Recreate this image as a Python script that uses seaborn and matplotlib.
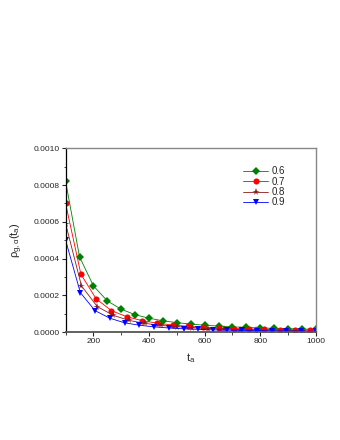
import matplotlib
matplotlib.use('Agg')
import numpy as np
import pandas as pd
import seaborn as sns
import matplotlib.pyplot as plt

# aging time t_a and rho_{g,alpha}(t_a) for each alpha
x_06 = [100, 150, 200, 250, 300, 350, 400, 450, 500, 550, 600, 650, 700, 750, 800, 850, 900, 950, 1000]
y_06 = [8.2e-4, 4.1e-4, 2.52e-4, 1.70e-4, 1.25e-4, 9.5e-5, 7.6e-5, 6.2e-5, 5.2e-5, 4.4e-5,
        3.8e-5, 3.3e-5, 2.9e-5, 2.6e-5, 2.3e-5, 2.1e-5, 1.9e-5, 1.7e-5, 1.6e-5]

x_07 = [100, 155, 210, 265, 320, 375, 430, 485, 540, 595, 650, 705, 760, 815, 870, 925, 980]
y_07 = [7.0e-4, 3.15e-4, 1.81e-4, 1.17e-4, 8.4e-5, 6.3e-5, 4.9e-5, 3.9e-5, 3.2e-5, 2.7e-5,
        2.3e-5, 2.0e-5, 1.75e-5, 1.55e-5, 1.4e-5, 1.25e-5, 1.15e-5]

x_08 = [100, 157, 214, 271, 328, 385, 442, 499, 556, 613, 670, 727, 784, 841, 898, 955]
y_08 = [5.9e-4, 2.52e-4, 1.39e-4, 9.2e-5, 6.4e-5, 4.8e-5, 3.7e-5, 3.0e-5, 2.4e-5, 2.0e-5,
        1.7e-5, 1.45e-5, 1.25e-5, 1.1e-5, 1.0e-5, 9e-6]

x_09 = [100, 153, 206, 259, 312, 365, 418, 471, 524, 576, 629, 682, 735, 788, 841, 894, 947, 1000]
y_09 = [5.0e-4, 2.15e-4, 1.17e-4, 7.6e-5, 5.1e-5, 3.8e-5, 2.9e-5, 2.3e-5, 1.85e-5, 1.55e-5,
        1.3e-5, 1.1e-5, 9.5e-6, 8.5e-6, 7.5e-6, 6.5e-6, 6e-6, 5.5e-6]

labels = ['0.6', '0.7', '0.8', '0.9']
colors = ['#008000', '#ff0000', '#8b1a1a', '#0000ff']
markers = ['D', 'o', '*', 'v']
msizes = [3.6, 4.4, 5.5, 4.6]

sns.set_style('ticks')
plt.rcParams['font.family'] = ['Liberation Sans', 'DejaVu Sans']
plt.rcParams['mathtext.fontset'] = 'custom'
plt.rcParams['mathtext.rm'] = 'Liberation Sans'
plt.rcParams['mathtext.it'] = 'Liberation Sans'
plt.rcParams['mathtext.default'] = 'regular'

fig = plt.figure(figsize=(3.4, 4.4), dpi=100)
ax = fig.add_axes([0.193, 0.245, 0.736, 0.418])

series = [(x_06, y_06), (x_07, y_07), (x_08, y_08), (x_09, y_09)]
for (xs, ys), lab, c, m, ms in zip(series, labels, colors, markers, msizes):
    df = pd.DataFrame({'t': xs, 'rho': ys})
    sns.lineplot(data=df, x='t', y='rho', ax=ax, color=c, lw=0.6, marker=m,
                 markersize=ms, markeredgewidth=0, label=lab)

ax.set_xlim(100, 1000)
ax.set_ylim(0, 0.001)
ax.set_xticks([200, 400, 600, 800, 1000])
ax.set_xticks([100, 300, 500, 700, 900], minor=True)
ax.set_yticks([0, 0.0002, 0.0004, 0.0006, 0.0008, 0.0010])
ax.set_yticks([0.0001, 0.0003, 0.0005, 0.0007, 0.0009], minor=True)
ax.set_yticklabels(['0.0000', '0.0002', '0.0004', '0.0006', '0.0008', '0.0010'])
ax.tick_params(axis='both', which='major', labelsize=6, length=3, width=0.8, pad=1.5)
ax.tick_params(axis='both', which='minor', length=1.8, width=0.6)

for side in ['top', 'right']:
    ax.spines[side].set_visible(True)
    ax.spines[side].set_color('#888888')
    ax.spines[side].set_linewidth(1.0)
ax.spines['left'].set_color('black')
ax.spines['left'].set_linewidth(0.9)
ax.spines['bottom'].set_color('#555555')
ax.spines['bottom'].set_linewidth(1.3)

ax.set_xlabel(r'$t_a$', fontsize=8, labelpad=4)
ax.set_ylabel(r'$\rho_{g,\alpha}(t_a)$', fontsize=8, labelpad=6)

leg = ax.legend(loc='upper left', bbox_to_anchor=(0.69, 0.93), frameon=False, fontsize=7,
                handlelength=2.6, handletextpad=0.3, labelspacing=0.05, borderpad=0)

fig.savefig('out.png', dpi=100, facecolor='white')
